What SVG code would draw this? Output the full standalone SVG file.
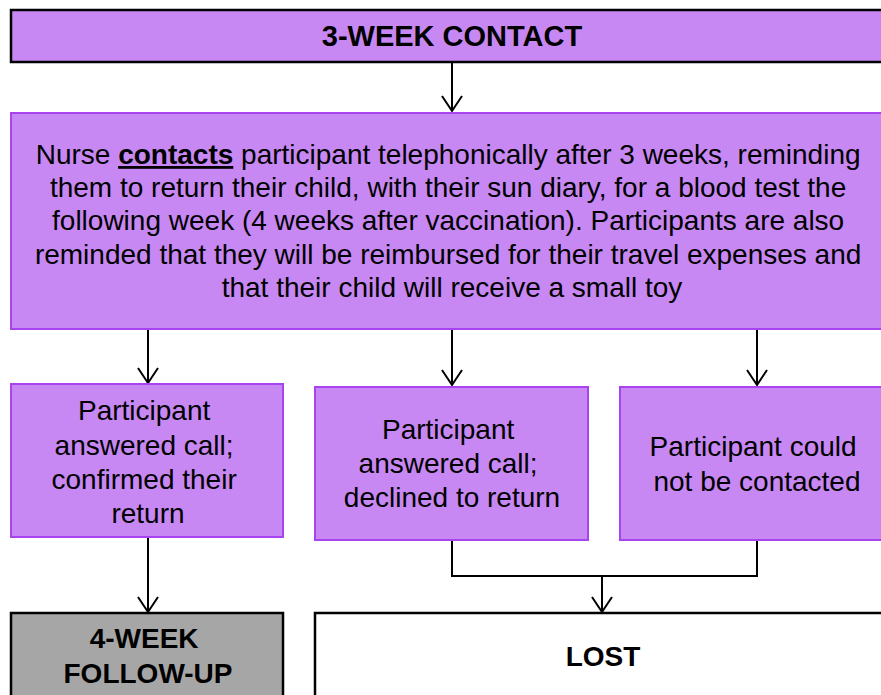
<svg xmlns="http://www.w3.org/2000/svg" width="881" height="695" viewBox="0 0 881 695">
<style>
.p{fill:#c888f4;stroke:#a744f0;stroke-width:2}
.k{stroke:#000;stroke-width:2.5}
.t{font-family:"Liberation Sans",Arial,sans-serif;fill:#000;text-anchor:middle}
.b{font-weight:bold}
.c{fill:none;stroke:#000;stroke-width:2}
</style>
<defs>
<marker id="a" markerWidth="24" markerHeight="24" refX="18" refY="12" orient="auto" markerUnits="userSpaceOnUse" viewBox="0 0 24 24">
<path d="M3 2 L18 12 L3 22" fill="none" stroke="#000" stroke-width="2"/>
</marker>
</defs>
<g id="connectors">
<path class="c" d="M452 62 V111" marker-end="url(#a)"/>
<path class="c" d="M148 329 V383" marker-end="url(#a)"/>
<path class="c" d="M452 329 V385" marker-end="url(#a)"/>
<path class="c" d="M757 329 V385" marker-end="url(#a)"/>
<path class="c" d="M148 537 V612" marker-end="url(#a)"/>
<path class="c" d="M452 540 V576 H757 V540"/>
<path class="c" d="M602 576 V612" marker-end="url(#a)"/>
</g>
<g id="n1">
<rect class="p k" x="11" y="10" width="880" height="52"/>
<text class="t b" x="452" y="46" font-size="29">3-WEEK CONTACT</text>
</g>
<g id="n2">
<rect class="p" x="11" y="113" width="880" height="216"/>
<text class="t" font-size="28">
<tspan x="452" y="164">Nurse <tspan font-weight="bold" text-decoration="underline">contacts</tspan> participant telephonically after 3 weeks, reminding</tspan>
<tspan x="452" y="197">them to return their child, with their sun diary, for a blood test the</tspan>
<tspan x="452" y="230">following week (4 weeks after vaccination). Participants are also</tspan>
<tspan x="452" y="264">reminded that they will be reimbursed for their travel expenses and</tspan>
<tspan x="452" y="297">that their child will receive a small toy</tspan>
</text>
</g>
<g id="n3">
<rect class="p" x="11" y="384" width="272" height="153"/>
<text class="t" font-size="28">
<tspan x="148" y="420">Participant</tspan>
<tspan x="148" y="455">answered call;</tspan>
<tspan x="148" y="489">confirmed their</tspan>
<tspan x="148" y="523">return</tspan>
</text>
</g>
<g id="n4">
<rect class="p" x="315" y="387" width="273" height="153"/>
<text class="t" font-size="28">
<tspan x="452" y="439">Participant</tspan>
<tspan x="452" y="473">answered call;</tspan>
<tspan x="452" y="507">declined to return</tspan>
</text>
</g>
<g id="n5">
<rect class="p" x="620" y="387" width="280" height="153"/>
<text class="t" font-size="28">
<tspan x="757" y="456">Participant could</tspan>
<tspan x="757" y="491">not be contacted</tspan>
</text>
</g>
<g id="n6">
<rect fill="#a6a6a6" class="k" x="11" y="613" width="272" height="100"/>
<text class="t b" font-size="28">
<tspan x="148" y="648">4-WEEK</tspan>
<tspan x="148" y="683">FOLLOW-UP</tspan>
</text>
</g>
<g id="n7">
<rect fill="#fff" class="k" x="315" y="613" width="580" height="100"/>
<text class="t b" x="603" y="666" font-size="28">LOST</text>
</g>
</svg>
